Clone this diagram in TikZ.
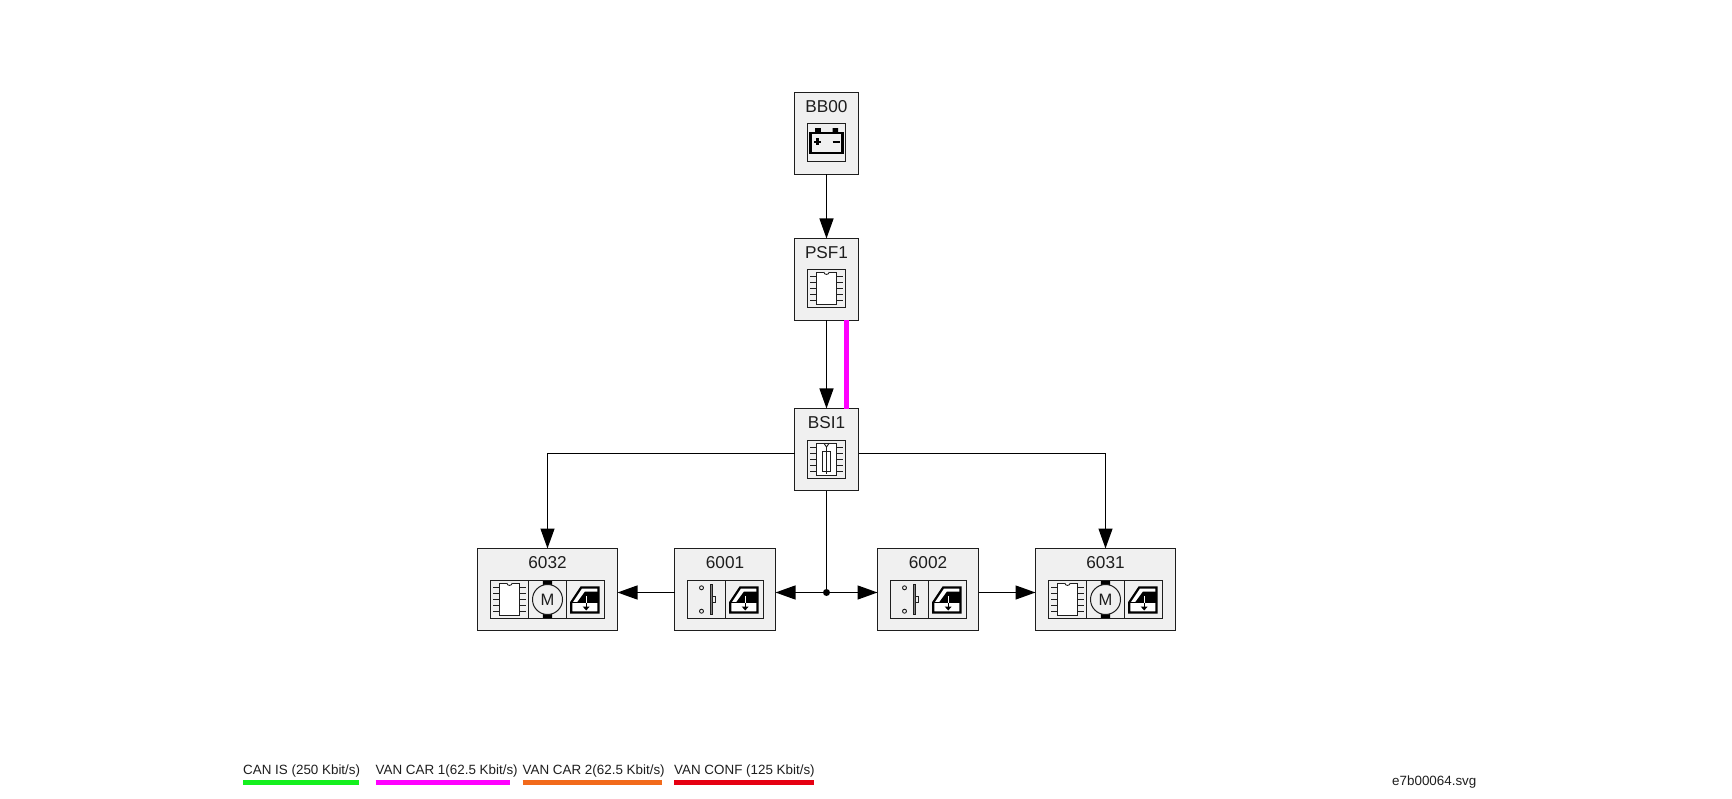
\documentclass[tikz,border=0pt]{standalone}
\usepackage{fontspec}
\setmainfont{Liberation Sans}
\usepackage{xcolor}
\usetikzlibrary{arrows.meta,calc}
\definecolor{boxgray}{HTML}{F0F0F0}
\definecolor{inkgray}{HTML}{1E1E1E}
\definecolor{cangreen}{HTML}{14F01E}
\definecolor{carmagenta}{HTML}{FF00FF}
\definecolor{carorange}{HTML}{F26A1B}
\definecolor{confred}{HTML}{E60012}
\tikzstyle{modbox}=[draw=inkgray,fill=boxgray,line width=1.2pt,inner sep=0pt,outer sep=0pt,minimum height=82pt]
\tikzstyle{modtitle}=[anchor=base,inner sep=0pt,text=inkgray,font=\fontsize{17.2}{18}\selectfont]
\tikzstyle{legendtext}=[anchor=base west,inner sep=0pt,text=inkgray,font=\fontsize{13.4}{14}\selectfont]
\tikzstyle{conn}=[line width=1.3pt,draw=black,-{Triangle[length=20pt,width=14pt]}]
\tikzstyle{plainconn}=[line width=1.3pt,draw=black]
\tikzstyle{juncdot}=[circle,fill=black,inner sep=0pt,minimum size=7pt]
\tikzstyle{cell}=[draw=inkgray,fill=boxgray,line width=1.2pt]
\tikzstyle{thinpart}=[draw=inkgray,line width=.9pt]
% name, centre, width, title
\newcommand{\modBox}[4]{
	\node[modbox,minimum width=#3pt] (#1) at #2 {};
	\node[modtitle] (#1title) at ($(#1.north)+(0,20.2)$) {#4};
}
% name, start of the line, end, colour, text
\newcommand{\legendKey}[5]{
	\node[legendtext] (#1) at (#2,774) {#5};
	\draw[#4,line width=4.5pt] (#2,782.7) -- (#3,782.7);
}
\newcommand{\chipBody}{
	\foreach \y in {6.7,12.7,19,25.3,31.3} {
		\draw[thinpart] (2.7,\y) -- (35.6,\y);
	}
	\draw[draw=inkgray,fill=white,line width=1.2pt] (8.7,2.7) rectangle (29.3,35.3);
}
\newcommand{\chipIcon}[1]{
	\begin{scope}[shift={#1}]
		\draw[cell] (0,0) rectangle (38,38);
		\chipBody
		\draw[thinpart,fill=white] (16.3,2.7) .. controls (16.8,5.6) and (21.2,5.6) .. (21.7,2.7);
	\end{scope}
}
\newcommand{\fuseIcon}[1]{
	\begin{scope}[shift={#1}]
		\draw[cell] (0,0) rectangle (38,38);
		\chipBody
		\draw[thinpart] (16.3,2.7) -- (19,6.5) -- (21.7,2.7);
		\draw[thinpart] (19,6.5) -- (19,33);
		\draw[thinpart] (15,10.7) rectangle (23,30.7);
	\end{scope}
}
\newcommand{\batteryIcon}[1]{
	\begin{scope}[shift={#1}]
		\draw[cell] (0,0) rectangle (38,38);
		\fill[black] (7.7,4.7) rectangle (13.3,9) (25,4.7) rectangle (30.7,9);
		\draw[black,line width=2.6pt] (2.9,9.5) rectangle (35.2,29.6);
		\draw[black,line width=2.1pt] (6.5,18.3) -- (13.5,18.3) (10,14.8) -- (10,21.8) (25,18.3) -- (32,18.3);
	\end{scope}
}
% name of the letter, corner of the cell
\newcommand{\motorIcon}[2]{
	\begin{scope}[shift={#2}]
		\draw[cell] (0,0) rectangle (38,38);
		\fill[black] (14.3,.7) rectangle (23.7,5.5) (14.3,32.5) rectangle (23.7,37.3);
		\draw[draw=inkgray,fill=boxgray,line width=1pt] (19,19) circle[radius=15pt];
		\node[inner sep=0pt,text=inkgray,font=\fontsize{16.5}{17}\selectfont] (#1) at (19,19.3) {M};
	\end{scope}
}
\newcommand{\trayIcon}[1]{
	\begin{scope}[shift={#1}]
		\draw[cell] (0,0) rectangle (38,38);
		\draw[black,fill=white,line width=2.2pt] (4.7,22) -- (14.7,7) -- (32,7) -- (32,32) -- (4.7,32) -- cycle;
		\fill[black] (10.5,22) -- (18.5,11) -- (32,11) -- (32,22) -- cycle;
		\draw[black,line width=1.1pt] (4.7,22) -- (32,22);
		\draw[white,line width=1pt] (19.7,15.5) -- (19.7,22);
		\draw[black,line width=1.4pt] (19.7,22) -- (19.7,27);
		\fill[black] (16.2,26) -- (23.2,26) -- (19.7,30) -- cycle;
	\end{scope}
}
\newcommand{\doorIcon}[1]{
	\begin{scope}[shift={#1}]
		\draw[cell] (0,0) rectangle (38,38);
		\draw[thinpart] (14,7.3) circle[radius=2pt] (14,30.7) circle[radius=2pt];
		\draw[thinpart,fill=gray] (22.7,4) rectangle (25,34);
		\draw[thinpart] (25,16.3) rectangle (28.3,22);
	\end{scope}
}
\begin{document}
\begin{tikzpicture}[x=1pt,y=-1pt]
	\useasboundingbox (0,0) rectangle (1732,799);
	% modules
	\modBox{bb00}{(826.5,133.5)}{64}{BB00}
	\modBox{psf1}{(826.5,279.5)}{64}{PSF1}
	\modBox{bsi1}{(826.5,449.5)}{64}{BSI1}
	\modBox{m6032}{(547.5,589.5)}{140}{6032}
	\modBox{m6001}{(725,589.5)}{101}{6001}
	\modBox{m6002}{(928,589.5)}{101}{6002}
	\modBox{m6031}{(1105.5,589.5)}{140}{6031}
	% icons
	\batteryIcon{(807.5,123.5)}
	\chipIcon{(807.5,269.5)}
	\fuseIcon{(807.5,440.5)}
	\chipIcon{(490.5,580.5)}
	\motorIcon{mota}{(528.5,580.5)}
	\trayIcon{(566.5,580.5)}
	\doorIcon{(687.5,580.5)}
	\trayIcon{(725.5,580.5)}
	\doorIcon{(890.5,580.5)}
	\trayIcon{(928.5,580.5)}
	\chipIcon{(1048.5,580.5)}
	\motorIcon{motb}{(1086.5,580.5)}
	\trayIcon{(1124.5,580.5)}
	% connections
	\node[juncdot] (junc) at (826.5,592.5) {};
	\draw[conn] (bb00) -- (psf1);
	\draw[conn] (psf1) -- (bsi1);
	\draw[carmagenta,line width=5pt] ($(psf1.south)+(20,0)$) -- ($(bsi1.north)+(20,0)$);
	\draw[conn] ($(bsi1.west)+(0,4)$) -| (m6032.north);
	\draw[conn] ($(bsi1.east)+(0,4)$) -| (m6031.north);
	\draw[plainconn] (bsi1) -- (junc);
	\draw[conn] (junc) -- (junc -| m6001.east);
	\draw[conn] (junc) -- (junc -| m6002.west);
	\draw[conn] (junc -| m6001.west) -- (junc -| m6032.east);
	\draw[conn] (junc -| m6002.east) -- (junc -| m6031.west);
	% legend
	\legendKey{canis}{243}{359}{cangreen}{CAN IS (250 Kbit/s)}
	\legendKey{vancara}{375.5}{509.5}{carmagenta}{VAN CAR 1(62.5 Kbit/s)}
	\legendKey{vancarb}{522.5}{662}{carorange}{VAN CAR 2(62.5 Kbit/s)}
	\legendKey{vanconf}{674}{813.5}{confred}{VAN CONF (125 Kbit/s)}
	\node[legendtext] (filename) at (1392,785) {e7b00064.svg};
\end{tikzpicture}
\end{document}
